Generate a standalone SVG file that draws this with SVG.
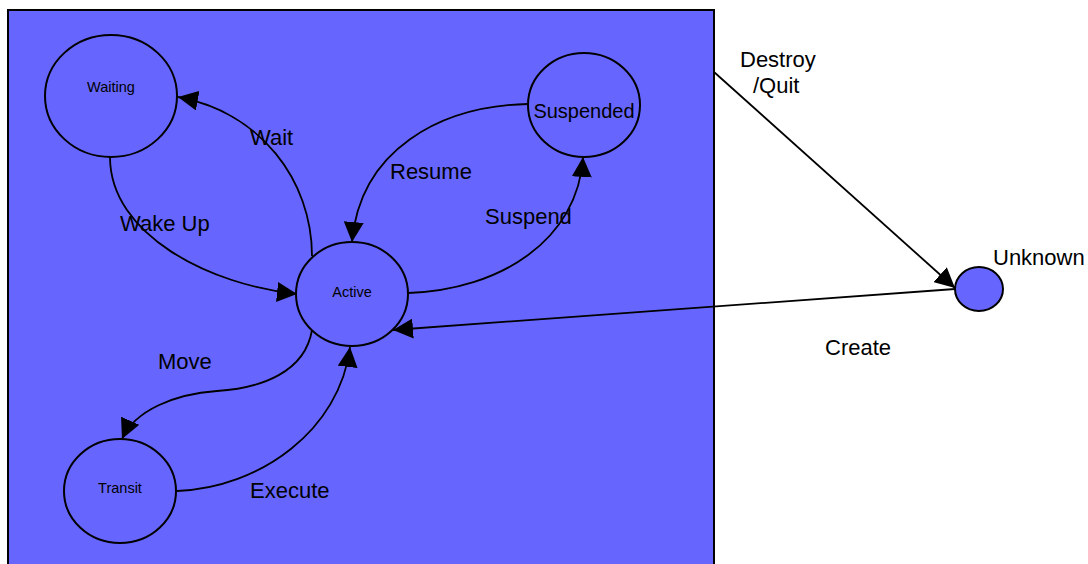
<svg xmlns="http://www.w3.org/2000/svg" width="1088" height="564" viewBox="0 0 1088 564">
  <style>
    .state { fill: #6666ff; stroke: #000; stroke-width: 2; }
    .small { font-family: "Liberation Sans", Arial, sans-serif; font-size: 14.5px; fill: #000; text-anchor: middle; }
    .big { font-family: "Liberation Sans", Arial, sans-serif; font-size: 22px; fill: #000; }
    .edge { fill: none; stroke: #000; stroke-width: 1.8; marker-end: url(#arrow); }
  </style>
  <defs>
    <marker id="arrow" viewBox="0 0 20 20" markerUnits="userSpaceOnUse" markerWidth="20" markerHeight="20" refX="20" refY="10" orient="auto">
      <path d="M0,0 L20,10 L0,20 z" fill="#000"/>
    </marker>
  </defs>
  <rect width="1088" height="564" fill="#fff"/>

  <!-- composite state container -->
  <g id="container">
    <rect x="8" y="10" width="706" height="570" class="state"/>
  </g>

  <g id="waiting">
    <ellipse cx="111" cy="96" rx="66" ry="61" class="state"/>
    <text x="111" y="92" class="small">Waiting</text>
  </g>
  <g id="active">
    <ellipse cx="352" cy="294" rx="56" ry="52" class="state"/>
    <text x="352" y="297" class="small">Active</text>
  </g>
  <g id="suspended">
    <ellipse cx="584" cy="105" rx="56" ry="52" class="state"/>
    <text x="584" y="118" class="small" style="font-size:20px">Suspended</text>
  </g>
  <g id="transit">
    <ellipse cx="120" cy="491" rx="56" ry="52" class="state"/>
    <text x="120" y="493" class="small">Transit</text>
  </g>
  <g id="unknown">
    <ellipse cx="979" cy="289" rx="24" ry="22" class="state"/>
    <text x="993" y="265" class="big">Unknown</text>
  </g>

  <g id="connectors">
    <path class="edge" d="M312,256 C312,180 260,112 178,97"/>
    <path class="edge" d="M110,157 C110,235 210,285 297,294"/>
    <path class="edge" d="M528,104 C440,106 360,150 352,242"/>
    <path class="edge" d="M408,293 C500,290 578,240 583,157"/>
    <path class="edge" d="M312,330 C305,372 262,388 217,391 C175,394 135,410 122,439"/>
    <path class="edge" d="M177,491 C260,488 340,430 350,347"/>
    <path class="edge" d="M714,72 L955,288"/>
    <path class="edge" d="M955,289 L393,330"/>
  </g>

  <g id="labels">
    <text x="250" y="145" class="big">Wait</text>
    <text x="120" y="231" class="big">Wake Up</text>
    <text x="390" y="179" class="big">Resume</text>
    <text x="485" y="224" class="big">Suspend</text>
    <text x="158" y="369" class="big">Move</text>
    <text x="250" y="498" class="big">Execute</text>
    <text x="740" y="67" class="big">Destroy</text>
    <text x="753" y="93" class="big">/Quit</text>
    <text x="825" y="355" class="big">Create</text>
  </g>
</svg>
